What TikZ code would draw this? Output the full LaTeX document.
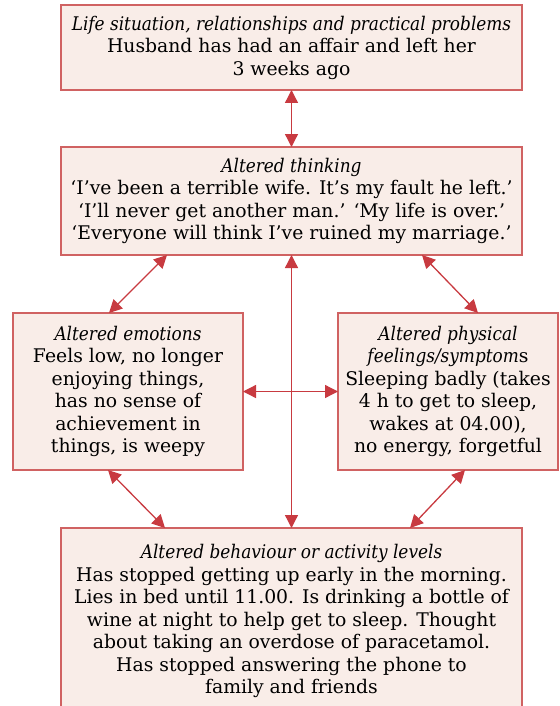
\documentclass[tikz,border=0pt]{standalone}
\usepackage{fontspec}
\setmainfont{DejaVu Serif}[ItalicFeatures={FakeStretch=0.9}]
\usepackage{tikz}
\usetikzlibrary{arrows.meta}
\usetikzlibrary{positioning}

\definecolor{boxline}{RGB}{208,98,98}
\definecolor{boxfill}{RGB}{249,237,232}
\definecolor{linkred}{RGB}{200,58,64}

\begin{document}
\begin{tikzpicture}
	[x=0.5pt,y=-0.5pt,
	 every node/.style={font=\fontsize{9.4}{11.25}\selectfont},
	 box/.style={draw=boxline,fill=boxfill,line width=0.6pt,align=center,
	   inner sep=0pt,outer sep=0pt},
	 link/.style={draw=linkred,line width=0.65pt,
	   {Triangle[length=6.5pt,width=6.5pt]}-{Triangle[length=6.5pt,width=6.5pt]}}]
	\useasboundingbox (0,0) rectangle (559,706);
	\node[box,minimum width=230.5pt,minimum height=42.5pt] (sit) at (291.5,47.5)
	  {\textit{Life situation, relationships and practical problems}\\
	   Husband has had an affair and left her\\ 3 weeks ago};
	\node[box,minimum width=230.5pt,minimum height=54pt] (think) at (291.5,201)
	  {\textit{Altered thinking}\\
	   ‘I’ve been a terrible wife. It’s my fault he left.’\\
	   ‘I’ll never get another man.’ ‘My life is over.’\\
	   ‘Everyone will think I’ve ruined my marriage.’};
	\node[box,minimum width=115pt,minimum height=78.5pt] (emo) at (128,391.5)
	  {\textit{Altered emotions}\\ Feels low, no longer\\ enjoying things,\\
	   has no sense of\\ achievement in\\ things, is weepy};
	\node[box,minimum width=110pt,minimum height=78.5pt] (phys) at (448,391.5)
	  {\textit{Altered physical}\\ \textit{feelings/symptom}s\\
	   Sleeping badly (takes\\ 4 h to get to sleep,\\ wakes at 04.00),\\
	   no energy, forgetful};
	\node[box,minimum width=230.5pt,minimum height=93pt] (beh) at (291.5,621)
	  {\textit{Altered behaviour or activity levels}\\
	   Has stopped getting up early in the morning.\\
	   Lies in bed until 11.00. Is drinking a bottle of\\
	   wine at night to help get to sleep. Thought\\
	   about taking an overdose of paracetamol.\\
	   Has stopped answering the phone to\\ family and friends};

	\draw[link] (sit.south) -- (think.north);
	\draw[link] (think.south) -- (beh.north);
	\draw[link] (emo.east) -- (phys.west);
	\draw[link] ([xshift=53pt]think.south west) -- ([xshift=48pt]emo.north west);
	\draw[link] ([xshift=-50pt]think.south east) -- ([xshift=-40pt]phys.north east);
	\draw[link] ([xshift=47.5pt]emo.south west) -- ([xshift=52pt]beh.north west);
	\draw[link] ([xshift=-46.5pt]phys.south east) -- ([xshift=-56pt]beh.north east);
\end{tikzpicture}
\end{document}
